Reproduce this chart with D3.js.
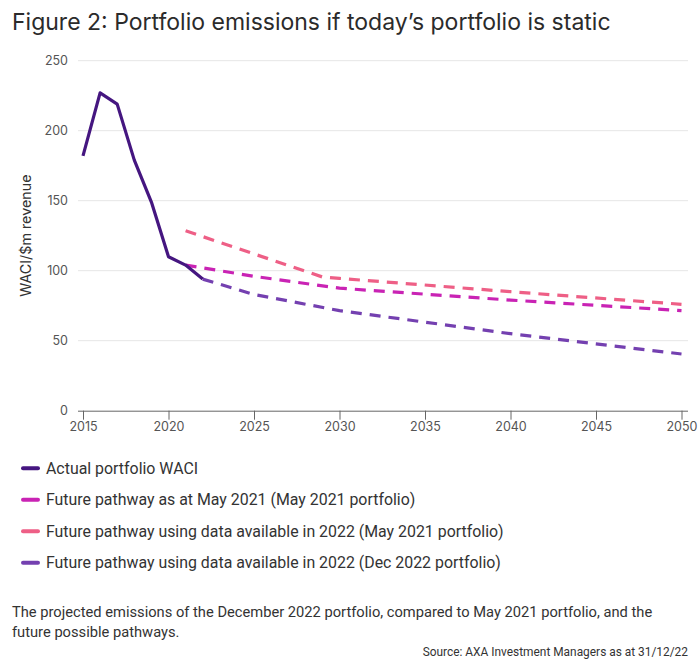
<!DOCTYPE html>
<html lang="en">
<head>
<meta charset="UTF-8">
<title>Figure 2: Portfolio emissions if today's portfolio is static</title>
<script src="https://d3js.org/d3.v7.min.js"></script>
<style>
  body { margin: 0; background: #fff; }
  .title { font-family: Inter, "Noto Sans", sans-serif; font-size: 23px; fill: #2b2b2b; }
  .tick text { font-family: Inter, "Noto Sans", sans-serif; font-size: 12.5px; fill: #555; }
  .axis-label { font-family: Inter, "Noto Sans", sans-serif; font-size: 14.3px; fill: #333; }
  .legend text { font-family: Roboto, "Liberation Sans", sans-serif; font-size: 15.9px; fill: #333; }
  .note { font-family: Roboto, "Liberation Sans", sans-serif; font-size: 14.7px; fill: #333; }
  .source { font-family: Roboto, "Liberation Sans", sans-serif; font-size: 11.9px; fill: #333; }
</style>
</head>
<body>
<svg width="700" height="660"></svg>
<script>
// years and values
const actualYears = [2015, 2016, 2017, 2018, 2019, 2020, 2021, 2022];
const actualValues = [182, 227, 219, 179, 149, 110, 104, 94];

const may2021Years = [2021, 2025, 2030, 2040, 2050];
const may2021Values = [104, 96, 87.5, 79, 71.5];

const data2022MayYears = [2021, 2029, 2030, 2040, 2050];
const data2022MayValues = [128.5, 95.5, 94.5, 85, 76];

const data2022DecYears = [2022, 2025, 2030, 2040, 2050];
const data2022DecValues = [94, 83, 71.5, 55, 40.5];

const xTicks = [2015, 2020, 2025, 2030, 2035, 2040, 2045, 2050];
const yTicks = [0, 50, 100, 150, 200, 250];

const seriesNames = [
  "Actual portfolio WACI",
  "Future pathway as at May 2021 (May 2021 portfolio)",
  "Future pathway using data available in 2022 (May 2021 portfolio)",
  "Future pathway using data available in 2022 (Dec 2022 portfolio)"
];
const seriesColors = ["#451680", "#c923b4", "#ee5f86", "#7440b0"];

const series = [
  { years: actualYears, values: actualValues, dashed: false },
  { years: may2021Years, values: may2021Values, dashed: true },
  { years: data2022MayYears, values: data2022MayValues, dashed: true },
  { years: data2022DecYears, values: data2022DecValues, dashed: true }
].map((s, i) => ({ ...s, name: seriesNames[i], color: seriesColors[i],
  points: s.years.map((yr, j) => ({ year: yr, value: s.values[j] })) }));

const svg = d3.select("svg");

// chart area
const plot = { left: 83, right: 681.5, top: 60.7, bottom: 410.7 };

const x = d3.scaleLinear().domain([2015, 2050]).range([plot.left, plot.right]);
const y = d3.scaleLinear().domain([0, 250]).range([plot.bottom, plot.top]);

svg.append("text")
  .attr("class", "title")
  .attr("x", 12)
  .attr("y", 30)
  .text("Figure 2: Portfolio emissions if today\u2019s portfolio is static");

// gridlines
svg.append("g")
  .selectAll("line")
  .data(yTicks.filter(d => d > 0))
  .enter().append("line")
  .attr("x1", 78)
  .attr("x2", 688)
  .attr("y1", d => y(d))
  .attr("y2", d => y(d))
  .attr("stroke", "#e6e6e6")
  .attr("stroke-width", 1);

// y axis (labels only)
const yAxis = svg.append("g")
  .attr("transform", "translate(" + (plot.left - 5) + ",0)")
  .call(d3.axisLeft(y).tickValues(yTicks).tickSize(0).tickPadding(10));
yAxis.select(".domain").remove();

// x axis
const xAxis = svg.append("g")
  .attr("transform", "translate(0," + plot.bottom + ")")
  .call(d3.axisBottom(x).tickValues(xTicks).tickFormat(d3.format("d")).tickSize(9).tickSizeOuter(0).tickPadding(2));
xAxis.select(".domain").attr("d", "M78,0.5H688").attr("stroke", "#666");
xAxis.selectAll(".tick line").attr("stroke", "#666");

svg.append("text")
  .attr("class", "axis-label")
  .attr("transform", "translate(31," + ((plot.top + plot.bottom) / 2) + ") rotate(-90)")
  .attr("text-anchor", "middle")
  .text("WACI/$m revenue");

const line = d3.line()
  .x(d => x(d.year))
  .y(d => y(d.value));

// dashed pathways first, actual on top
const order = [2, 1, 3, 0];
svg.append("g")
  .selectAll("path")
  .data(order.map(i => series[i]))
  .enter().append("path")
  .attr("d", d => line(d.points))
  .attr("fill", "none")
  .attr("stroke", d => d.color)
  .attr("stroke-width", 3.2)
  .attr("stroke-linejoin", "round")
  .attr("stroke-dasharray", d => d.dashed ? "11,8" : null);

// legend
const legend = svg.append("g").attr("class", "legend")
  .selectAll("g")
  .data(series)
  .enter().append("g")
  .attr("transform", (d, i) => "translate(0," + (468.3 + i * 31.5) + ")");

legend.append("line")
  .attr("x1", 23).attr("x2", 38)
  .attr("stroke", d => d.color)
  .attr("stroke-width", 4)
  .attr("stroke-linecap", "round");

legend.append("text")
  .attr("x", 46)
  .attr("dy", "0.35em")
  .text(d => d.name);

// footnote
const note = svg.append("text").attr("class", "note");
note.append("tspan").attr("x", 12).attr("y", 617)
  .text("The projected emissions of the December 2022 portfolio, compared to May 2021 portfolio, and the");
note.append("tspan").attr("x", 12).attr("y", 637)
  .text("future possible pathways.");

svg.append("text")
  .attr("class", "source")
  .attr("x", 688)
  .attr("y", 656)
  .attr("text-anchor", "end")
  .text("Source: AXA Investment Managers as at 31/12/22");
</script>
</body>
</html>
